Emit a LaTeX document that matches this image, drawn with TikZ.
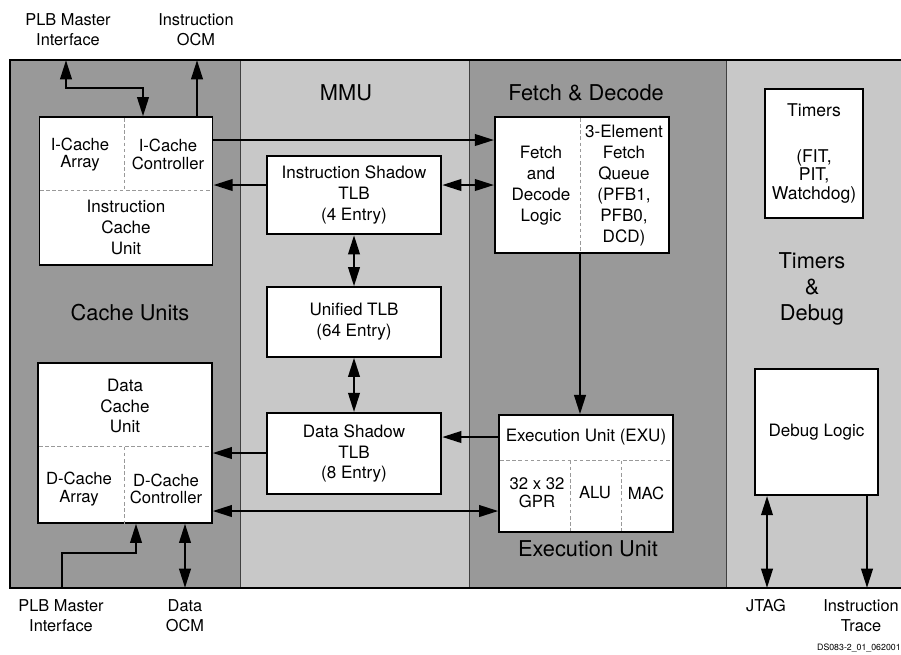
\documentclass[tikz,border=0pt]{standalone}
\usepackage{fontspec}
\setmainfont{TeX Gyre Heros}
\usetikzlibrary{arrows.meta}
\definecolor{paneldark}{HTML}{999999}
\definecolor{panellight}{HTML}{C8C8C8}
\tikzset{
    unit/.style={draw,line width=1pt,fill=white,inner sep=0pt,align=center,
        font=\fontsize{9.7}{11.9}\selectfont},
    part/.style={inner sep=0pt,align=center,font=\fontsize{9.5}{10}\selectfont},
    title/.style={inner sep=0pt,align=center,font=\fontsize{12.4}{14.7}\selectfont},
    port/.style={inner sep=0pt,align=center,font=\fontsize{9.3}{11.3}\selectfont},
    divider/.style={gray!80,line width=0.5pt,dash pattern=on 2pt off 1.5pt},
    bus/.style={line width=1.5pt,-{Triangle[length=11pt,width=6.5pt]}},
    bibus/.style={line width=1.5pt,{Triangle[length=11pt,width=6.5pt]}-{Triangle[length=11pt,width=6.5pt]}},
    wire/.style={line width=1.5pt}
}
\begin{document}
\begin{tikzpicture}[x=0.02cm,y=-0.02cm]
        \useasboundingbox (0,0) rectangle (901,654);
        %% panels
        \fill[paneldark] (10,60) rectangle (240,588);
        \fill[panellight] (240,60) rectangle (469,588);
        \fill[paneldark] (469,60) rectangle (726,588);
        \fill[panellight] (726,60) rectangle (901,588);
        \foreach \x in {240,469,726}
            \draw[black!75,line width=0.5pt] (\x,60) -- (\x,588);
        \draw[line width=1.1pt] (901,60) -- (10,60) -- (10,588) -- (901,588);
        %% panel titles
        \node[title] (mmut) at (346,93) {MMU};
        \node[title] (fdt) at (586,93) {Fetch \& Decode};
        \node[title] (cut) at (130,313) {Cache Units};
        \node[title] (eut) at (588,549) {Execution Unit};
        \node[title] (tdt) at (812,289) {Timers\\\&\\Debug};
        %% cache units
        \node[unit,minimum width=3.46cm,minimum height=2.95cm] (icache) at (126,191) {};
        \node[part] (icarr) at (80,154.5) {I-Cache\\Array};
        \node[part] (icctl) at (168,154.5) {I-Cache\\Controller};
        \node[part,font=\fontsize{9.7}{11.7}\selectfont] (icu) at (126,227.4) {Instruction\\Cache\\Unit};
        \draw[divider] (40,190.7) -- (212,190.7);
        \draw[divider] (124,118) -- (124,190.7);
        \node[unit,minimum width=3.47cm,minimum height=3.2cm] (dcache) at (125,442.7) {};
        \node[part,font=\fontsize{9.7}{11.9}\selectfont] (dcu) at (125,406) {Data\\Cache\\Unit};
        \node[part] (dcarr) at (79,489) {D-Cache\\Array};
        \node[part] (dcctl) at (166,489) {D-Cache\\Controller};
        \draw[divider] (39,446.7) -- (211,446.7);
        \draw[divider] (124,446.7) -- (124,528);
        %% mmu
        \node[unit,minimum width=3.49cm,minimum height=1.57cm] (istlb) at (354,195) {Instruction Shadow\\TLB\\(4 Entry)};
        \node[unit,minimum width=3.49cm,minimum height=1.39cm] (utlb) at (354,322) {Unified TLB\\(64 Entry)};
        \node[unit,minimum width=3.49cm,minimum height=1.62cm] (dstlb) at (354,453.5) {Data Shadow\\TLB\\(8 Entry)};
        %% fetch and decode
        \node[unit,minimum width=3.48cm,minimum height=2.72cm] (fetch) at (582,184.7) {};
        \node[part,font=\fontsize{9.7}{11.9}\selectfont] (fdlog) at (541,185.5) {Fetch\\and\\Decode\\Logic};
        \node[part,font=\fontsize{9.7}{11.9}\selectfont] (fq) at (624,185.5) {3-Element\\Fetch\\Queue\\(PFB1,\\PFB0,\\DCD)};
        \draw[divider] (580,118) -- (580,252);
        %% execution unit
        \node[unit,minimum width=3.47cm,minimum height=2.33cm] (exu) at (586,473.4) {};
        \node[part,font=\fontsize{9.7}{11.9}\selectfont] (exut) at (586,437) {Execution Unit (EXU)};
        \node[part] (gpr) at (537,492.5) {32 x 32\\GPR};
        \node[part] (alu) at (595,493) {ALU};
        \node[part] (mac) at (646,493) {MAC};
        \draw[divider] (500,460.7) -- (672,460.7);
        \draw[divider] (570.7,460.7) -- (570.7,531);
        \draw[divider] (621,460.7) -- (621,531);
        %% timers and debug
        \node[unit,minimum width=1.95cm,minimum height=2.58cm,font=\fontsize{10}{10.4}\selectfont] (timers) at (814,153.2) {Timers\\[16pt](FIT,\\PIT,\\Watchdog)};
        \node[unit,minimum width=2.46cm,minimum height=2.52cm] (debug) at (816.5,432) {Debug Logic};
        %% outside ports
        \node[port] (plbi) at (68,30) {PLB Master\\Interface};
        \node[port] (iocml) at (196,30) {Instruction\\OCM};
        \node[port] (plbd) at (61,616) {PLB Master\\Interface};
        \node[port] (docml) at (185,616) {Data\\OCM};
        \node[port] (jtagl) at (766,606) {JTAG};
        \node[port] (itrl) at (861,616) {Instruction\\Trace};
        \node[inner sep=0pt,anchor=east,font=\fontsize{5}{6}\selectfont] (figid) at (901,648) {DS083-2\_01\_062001};
        \coordinate (plbtop) at (66,60);
        \coordinate (plbbend) at (143,88);
        \coordinate (iocm) at (197,60);
        \coordinate (plbbot) at (62,588);
        \coordinate (plbdbend) at (136,553);
        \coordinate (docm) at (185,588);
        \coordinate (jtag) at (767,588);
        \coordinate (itrace) at (867,588);
        %% rows and columns of the buses
        \coordinate (ifrow) at (0,140);
        \coordinate (itrow) at (0,185);
        \coordinate (exrow) at (0,437);
        \coordinate (dtrow) at (0,453);
        \coordinate (dxrow) at (0,511);
        \coordinate (fxcol) at (580,0);
        %% buses
        \draw[bibus] (plbtop) |- (plbbend) -- (plbbend |- icache.north);
        \draw[bus] (icache.north -| iocm) -- (iocm);
        \draw[bus] (icache.east |- ifrow) -- (fetch.west |- ifrow);
        \draw[bus] (istlb.west |- itrow) -- (icache.east |- itrow);
        \draw[bibus] (istlb.east |- itrow) -- (fetch.west |- itrow);
        \draw[bibus] (istlb) -- (utlb);
        \draw[bibus] (utlb) -- (dstlb);
        \draw[bus] (fetch.south -| fxcol) -- (exu.north -| fxcol);
        \draw[bus] (exu.west |- exrow) -- (dstlb.east |- exrow);
        \draw[bus] (dstlb.west |- dtrow) -- (dcache.east |- dtrow);
        \draw[bibus] (dcache.east |- dxrow) -- (exu.west |- dxrow);
        \draw[bus] (plbbot) |- (plbdbend) -- (plbdbend |- dcache.south);
        \draw[bibus] (dcache.south -| docm) -- (docm);
        \draw[bibus] (debug.south -| jtag) -- (jtag);
        \draw[bus] (debug.south -| itrace) -- (itrace);
    \end{tikzpicture}
\end{document}
